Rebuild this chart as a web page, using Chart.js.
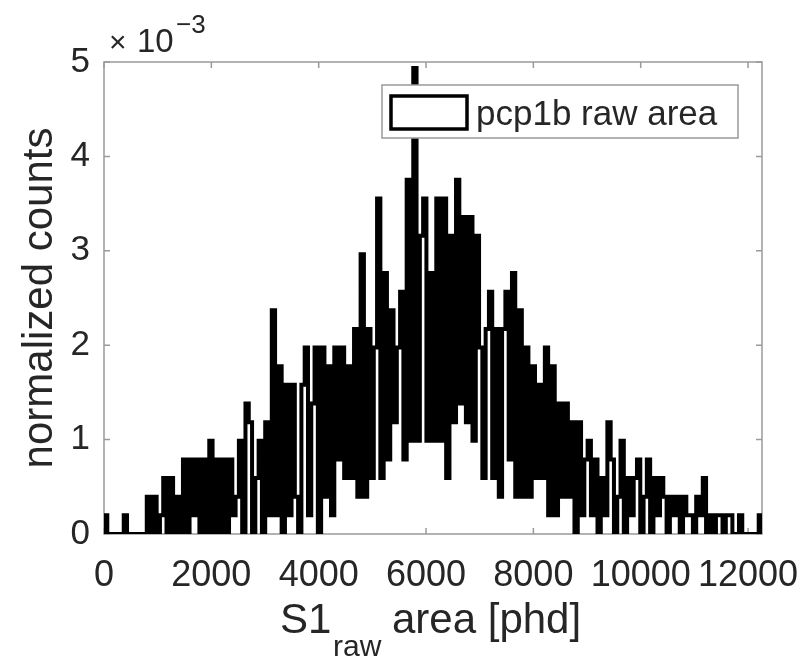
<!DOCTYPE html>
<html>
<head>
<meta charset="utf-8">
<script src="https://cdn.jsdelivr.net/npm/chart.js@4.4.1/dist/chart.umd.min.js"></script>
<style>
  html,body{margin:0;padding:0;background:#fff;}
  #wrap{width:808px;height:661px;position:relative;}
</style>
</head>
<body>
<div id="wrap"><canvas id="hist"></canvas></div>
<script>
/*
  S1 raw area histogram (stairs outline), MATLAB-style axes
  - counts per bin, scaled to normalized counts (x1e-3)
*/
const FONT = "'Liberation Sans', Arial, sans-serif";

// histogram: 200 bins from 0 to xMax
const xMax = 12260;
const binCounts = [
  1,0,0,0,0,0,1,0,0,0, 0,0,0,2,0,2,0,1,3,0,
  3,0,2,0,4,0,4,1,4,0, 4,0,5,0,4,0,4,0,4,1,
  2,5,0,7,6,0,3,5,0,6, 1,12,1,9,0,8,1,8,2,0,
  8,10,1,7,10,0,10,2,9,1, 10,4,10,3,9,3,11,2,15,2,
  11,3,10,18,3,14,4,12,6,10, 13,4,19,5,25,5,16,18,5,14,
  5,18,5,18,3,16,6,19,7,17, 6,17,5,16,10,3,11,13,3,11,
  2,11,13,4,14,2,12,2,10,2, 9,3,8,3,10,1,9,1,7,2,
  7,2,6,0,6,1,4,5,1,4, 0,3,1,6,4,0,2,5,0,3,
  1,3,4,0,2,4,0,3,1,3, 2,0,2,1,2,0,2,1,1,0,
  2,1,3,0,1,0,1,1,0,1, 1,0,0,1,0,0,0,0,0,1
];
const normPerCount = 0.1975;   // one count, in units of 1e-3
const xTickValues = [0,2000,4000,6000,8000,10000,12000];
const yTickValues = [0,1,2,3,4,5];
const seriesLabel = 'pcp1b raw area';

const binWidth = xMax / binCounts.length;

// stairs outline: start on the baseline, step through every bin, drop back at the end
function stairsPoints(){
  const pts = [{x:0,y:0}];
  binCounts.forEach((c,i)=> pts.push({x:i*binWidth, y:c*normPerCount}));
  const last = binCounts[binCounts.length-1]*normPerCount;
  pts.push({x:binCounts.length*binWidth, y:last});
  pts.push({x:binCounts.length*binWidth, y:0});
  return pts;
}

const axisGray = '#9a9a9a';
const textGray = '#262626';

// box, inward ticks, legend, exponent and x label (MATLAB look)
const matlabAxes = {
  id:'matlabAxes',
  beforeDatasetsDraw(chart){
    const {ctx, chartArea:a, scales:{x,y}} = chart;
    ctx.save();
    ctx.strokeStyle = axisGray; ctx.lineWidth = 1.5;
    ctx.strokeRect(a.left, a.top, a.right-a.left, a.bottom-a.top);
    ctx.beginPath();
    xTickValues.forEach(v=>{
      const px = x.getPixelForValue(v);
      ctx.moveTo(px, a.bottom); ctx.lineTo(px, a.bottom-6);
      ctx.moveTo(px, a.top); ctx.lineTo(px, a.top+6);
    });
    yTickValues.forEach(v=>{
      const py = y.getPixelForValue(v);
      ctx.moveTo(a.left, py); ctx.lineTo(a.left+6, py);
      ctx.moveTo(a.right, py); ctx.lineTo(a.right-6, py);
    });
    ctx.stroke();
    ctx.restore();
  },
  afterDraw(chart){
    const {ctx} = chart;
    ctx.save();
    // legend
    ctx.fillStyle = '#fff';
    ctx.fillRect(382, 85, 356, 53);
    ctx.strokeStyle = axisGray; ctx.lineWidth = 1.5;
    ctx.strokeRect(382, 85, 356, 53);
    ctx.strokeStyle = '#000'; ctx.lineWidth = 3.5;
    ctx.strokeRect(391, 96, 76, 33);
    ctx.fillStyle = textGray;
    ctx.font = `35px ${FONT}`;
    ctx.textBaseline = 'alphabetic'; ctx.textAlign = 'left';
    ctx.fillText(seriesLabel, 476, 125);
    // x10^-3
    ctx.font = `30px ${FONT}`;
    ctx.fillText('\u00d7', 109, 52);
    ctx.font = `33px ${FONT}`;
    ctx.fillText('10', 137, 52);
    ctx.font = `26px ${FONT}`;
    ctx.fillText('\u22123', 176, 33);
    // x label with subscript
    ctx.font = `42px ${FONT}`;
    ctx.fillText('S1', 280, 633);
    ctx.font = `30px ${FONT}`;
    ctx.fillText('raw', 333, 656);
    ctx.font = `42px ${FONT}`;
    ctx.fillText('area [phd]', 392, 633);
    ctx.restore();
  }
};

new Chart(document.getElementById('hist').getContext('2d'), {
  type:'line',
  data:{datasets:[{
    label:seriesLabel,
    data:stairsPoints(),
    stepped:true,
    borderColor:'#000',
    borderWidth:4,
    pointRadius:0,
    fill:false
  }]},
  options:{
    responsive:true, maintainAspectRatio:false, animation:false,
    layout:{padding:{left:0,right:46,top:62,bottom:0}},
    plugins:{legend:{display:false}, tooltip:{enabled:false}},
    scales:{
      x:{
        type:'linear', min:0, max:xMax,
        afterBuildTicks:s=>{ s.ticks = xTickValues.map(v=>({value:v})); },
        afterFit:s=>{ s.height = 127; s.paddingLeft = 0; s.paddingRight = 0; },
        grid:{display:false, drawTicks:false}, border:{display:false},
        ticks:{color:textGray, font:{family:FONT,size:36}, padding:20, maxRotation:0, autoSkip:false,
               callback:v=>String(v)}
      },
      y:{
        type:'linear', min:0, max:5,
        afterBuildTicks:s=>{ s.ticks = yTickValues.map(v=>({value:v})); },
        afterFit:s=>{ s.width = 104; s.paddingTop = 0; s.paddingBottom = 0; },
        grid:{display:false, drawTicks:false}, border:{display:false},
        ticks:{color:textGray, font:{family:FONT,size:35}, padding:14, callback:v=>String(v)},
        title:{display:true, text:'normalized counts', color:textGray,
               font:{family:FONT,size:42}, padding:{top:15,bottom:0}}
      }
    }
  },
  plugins:[matlabAxes]
});
</script>
</body>
</html>
